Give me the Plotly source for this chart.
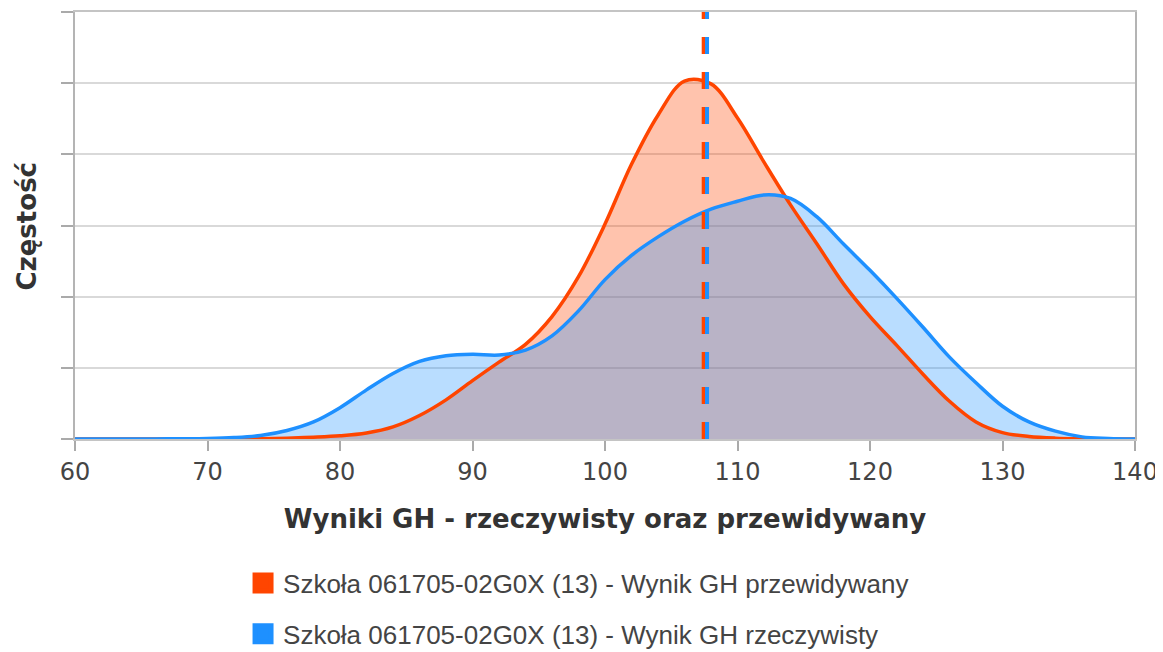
import plotly.graph_objects as go

# Scores (x) and estimated density (y, in gridline units)
score_x = [60, 62, 64, 66, 68, 70, 72, 74, 76, 78, 80, 82, 84, 86, 88, 90, 92, 94, 96, 98, 100,
           102, 104, 106, 108, 110, 112, 114, 116, 118, 120, 122, 124, 126, 128, 130, 132, 134, 136, 138, 140]
pred_y = [0, 0, 0, 0, 0, 0, 0.002, 0.005, 0.012, 0.025, 0.045, 0.085, 0.17, 0.33, 0.55, 0.82, 1.08, 1.33,
          1.72, 2.28, 3.02, 3.86, 4.55, 5.03, 4.99, 4.51, 3.89, 3.29, 2.74, 2.18, 1.72, 1.32, 0.91, 0.53,
          0.24, 0.09, 0.035, 0.012, 0.004, 0, 0]
act_y = [0, 0, 0, 0.001, 0.003, 0.007, 0.02, 0.05, 0.12, 0.24, 0.44, 0.69, 0.92, 1.09, 1.17, 1.19, 1.18,
         1.25, 1.45, 1.80, 2.24, 2.58, 2.84, 3.06, 3.23, 3.34, 3.43, 3.38, 3.12, 2.74, 2.37, 1.98, 1.57,
         1.15, 0.79, 0.46, 0.24, 0.11, 0.03, 0.008, 0]

pred_mean = 107.45
act_mean = 107.7
y_top = 6

pred_name = "Szkoła 061705-02G0X (13) - Wynik GH przewidywany"
act_name = "Szkoła 061705-02G0X (13) - Wynik GH rzeczywisty"
x_title = "Wyniki GH - rzeczywisty oraz przewidywany"
y_title = "Częstość"
x_ticks = [60, 70, 80, 90, 100, 110, 120, 130, 140]

ORANGE = "#FF4500"
BLUE = "#1E90FF"
TITLE_FONT = dict(family="DejaVu Sans", size=26, color="#333333", weight="bold")

fig = go.Figure()
# filled areas (drawn first, no outline)
fig.add_trace(go.Scatter(x=score_x, y=pred_y, mode="lines", line=dict(color=ORANGE, width=0, shape="spline", smoothing=1),
                         fill="tozeroy", fillcolor="rgba(255,69,0,0.32)", showlegend=False, hoverinfo="skip"))
fig.add_trace(go.Scatter(x=score_x, y=act_y, mode="lines", line=dict(color=BLUE, width=0, shape="spline", smoothing=1),
                         fill="tozeroy", fillcolor="rgba(30,144,255,0.31)", showlegend=False, hoverinfo="skip"))
# outlines on top of fills
fig.add_trace(go.Scatter(x=score_x, y=pred_y, mode="lines", line=dict(color=ORANGE, width=3.5, shape="spline", smoothing=1),
                         showlegend=False, hoverinfo="skip"))
fig.add_trace(go.Scatter(x=score_x, y=act_y, mode="lines", line=dict(color=BLUE, width=3.5, shape="spline", smoothing=1),
                         showlegend=False, hoverinfo="skip"))
# mean lines
fig.add_trace(go.Scatter(x=[pred_mean, pred_mean], y=[0, y_top], mode="lines",
                         line=dict(color=ORANGE, width=4, dash="17px,18px"), showlegend=False, hoverinfo="skip"))
fig.add_trace(go.Scatter(x=[act_mean, act_mean], y=[0, y_top], mode="lines",
                         line=dict(color=BLUE, width=4, dash="17px,18px"), showlegend=False, hoverinfo="skip"))
# legend entries
fig.add_trace(go.Scatter(x=[None], y=[None], mode="markers", name=pred_name, legendgroup="a",
                         marker=dict(symbol="square", size=16, color=ORANGE, line=dict(color=ORANGE, width=5))))
fig.add_trace(go.Scatter(x=[None], y=[None], mode="markers", name=act_name, legendgroup="b",
                         marker=dict(symbol="square", size=16, color=BLUE, line=dict(color=BLUE, width=5))))

# the page body adds an 8px margin, so the figure is 8px smaller than the window
fig.update_layout(
    width=1155, height=644,
    margin=dict(l=67, r=28, t=4, b=213, autoexpand=False),
    plot_bgcolor="white", paper_bgcolor="white",
    showlegend=True,
    legend=dict(orientation="v", xref="container", yref="container", x=0.2035, xanchor="left", y=0.1435, yanchor="top",
                font=dict(family="Liberation Sans, Arial, sans-serif", size=26, color="#444444"),
                tracegroupgap=14, bgcolor="rgba(0,0,0,0)"),
    xaxis=dict(range=[60, 140], tickvals=x_ticks, ticks="outside", ticklen=10, tickcolor="#aaaaaa", tickwidth=1.5,
               showgrid=False, zeroline=False, showline=True, linecolor="#c4c4c4", linewidth=2, mirror=True,
               automargin=True,
               tickfont=dict(family="DejaVu Sans", size=24, color="#444444"),
               title=dict(text=x_title, font=TITLE_FONT, standoff=25)),
    yaxis=dict(range=[0, y_top], dtick=1, ticks="outside", ticklen=12, tickcolor="#aaaaaa", tickwidth=1.5,
               showticklabels=False, showgrid=True, gridcolor="#d9d9d9", gridwidth=1.5, zeroline=False,
               showline=True, linecolor="#b4b4b4", linewidth=2, mirror=True, automargin=False),
    annotations=[dict(text=y_title, xref="paper", yref="paper", x=-0.0453, y=0.5, xanchor="center", yanchor="middle",
                      textangle=-90, showarrow=False, font=TITLE_FONT)],
)

fig.write_html("out.html")
